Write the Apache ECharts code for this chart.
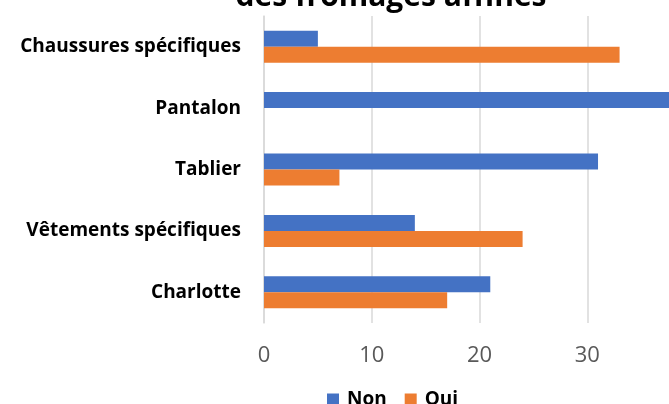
<!DOCTYPE html>
<html>
<head>
<meta charset="utf-8">
<script src="https://cdn.jsdelivr.net/npm/echarts@6/dist/echarts.min.js"></script>
<style>
  html, body { margin: 0; padding: 0; background: #fff; }
  #chart { width: 669px; height: 404px; }
</style>
</head>
<body>
<div id="chart"></div>
<script>
// Equipment categories, listed bottom to top along the category axis
const categories = ['Charlotte', 'Vêtements spécifiques', 'Tablier', 'Pantalon', 'Chaussures spécifiques'];
const seriesNames = ['Non', 'Oui'];
const nonValues = [21, 14, 31, 38, 5];
const ouiValues = [17, 24, 7, 0, 33];
const titleText = 'des fromages affinés';

const chart = echarts.init(document.getElementById('chart'), null, { renderer: 'canvas' });

chart.setOption({
  animation: false,
  backgroundColor: '#ffffff',
  graphic: [{
    type: 'text',
    x: 391,
    y: 12,
    z: 10,
    style: {
      text: titleText,
      textAlign: 'center',
      textVerticalAlign: 'bottom',
      fontFamily: 'Open Sans',
      fontWeight: 'bold',
      fontSize: 30,
      fill: '#000000'
    }
  }],
  legend: {
    data: seriesNames,
    left: 322,
    top: 385,
    icon: 'rect',
    itemWidth: 12,
    itemHeight: 12,
    itemGap: 18,
    textStyle: {
      fontFamily: 'Open Sans',
      fontWeight: 'bold',
      fontSize: 19,
      color: '#000000',
      padding: [0, 0, 0, 3]
    }
  },
  grid: {
    left: 264,
    right: -26,
    top: 16,
    bottom: 81,
    containLabel: false,
    outerBoundsMode: 'none'
  },
  xAxis: {
    type: 'value',
    min: 0,
    max: 40,
    interval: 10,
    axisLine: { show: false },
    axisTick: { show: false },
    splitLine: { show: true, lineStyle: { color: '#d9d9d9', width: 1.5 } },
    axisLabel: {
      margin: 22,
      fontFamily: 'Open Sans',
      fontSize: 22,
      color: '#595959'
    }
  },
  yAxis: {
    type: 'category',
    data: categories,
    axisLine: { show: true, lineStyle: { color: '#d9d9d9', width: 1.5 } },
    axisTick: { show: false },
    axisLabel: {
      margin: 23,
      fontFamily: 'Open Sans',
      fontWeight: 'bold',
      fontSize: 19,
      color: '#000000'
    }
  },
  series: [
    {
      name: 'Non',
      type: 'bar',
      data: nonValues,
      barWidth: 16,
      barGap: '0%',
      itemStyle: { color: '#4472C4' }
    },
    {
      name: 'Oui',
      type: 'bar',
      data: ouiValues,
      barWidth: 16,
      barGap: '0%',
      itemStyle: { color: '#ED7D31' }
    }
  ]
});
</script>
</body>
</html>
